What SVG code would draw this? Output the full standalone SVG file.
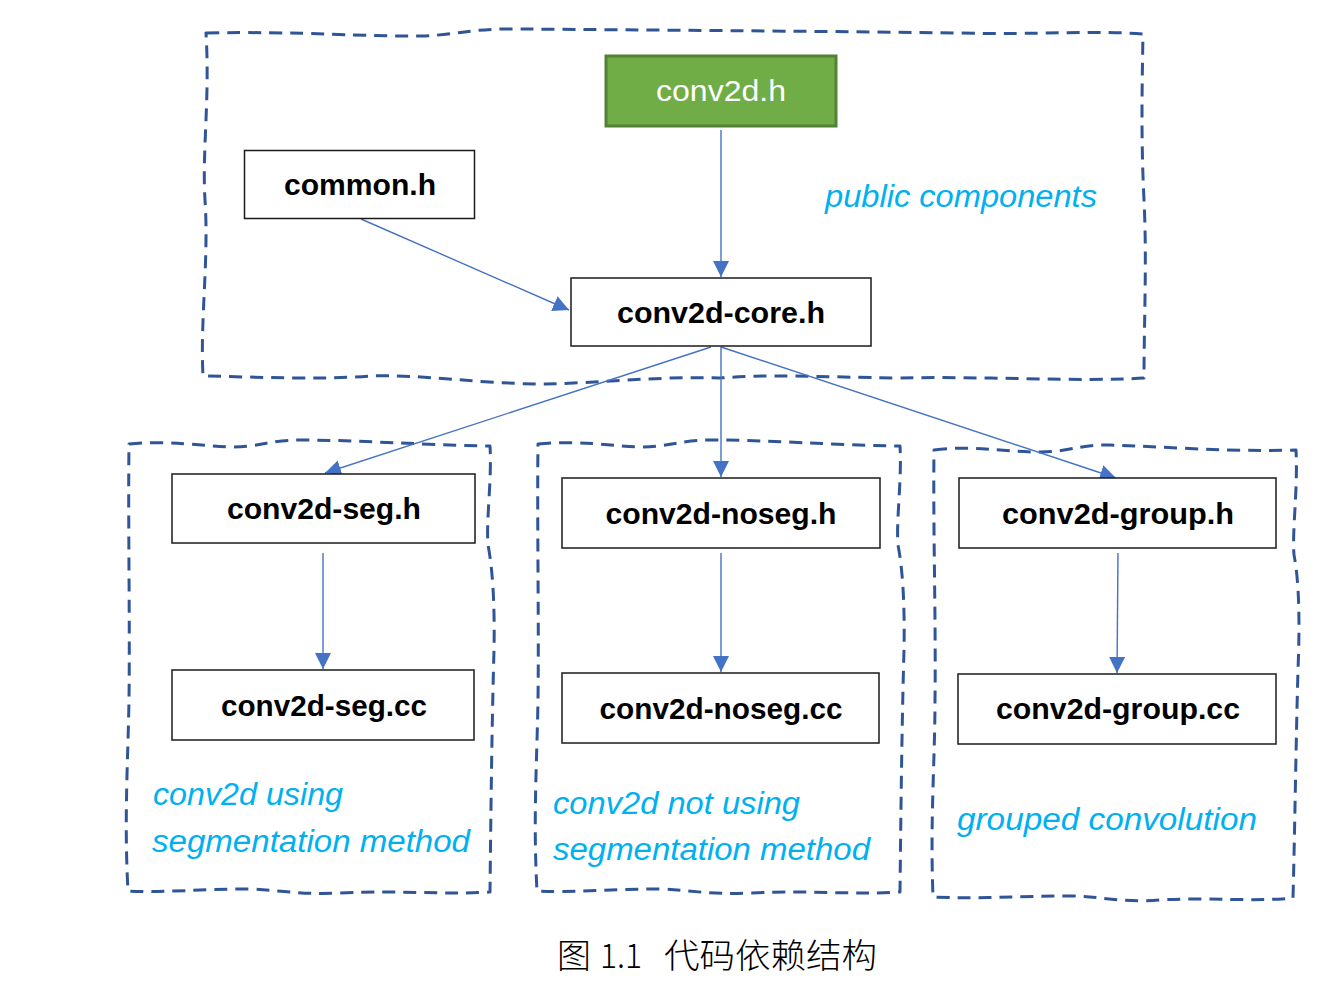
<svg xmlns="http://www.w3.org/2000/svg" width="1339" height="999" viewBox="0 0 1339 999">
<style>
.region{fill:none;stroke:#2F5597;stroke-width:3;stroke-dasharray:13 8;stroke-linejoin:round}
.box{fill:#fff;stroke:#1a1a1a;stroke-width:1.5}
.lbl{font-family:"Liberation Sans",Arial,sans-serif;font-weight:bold;font-size:29px;fill:#000;text-anchor:middle}
.note{font-family:"Liberation Sans",Arial,sans-serif;font-style:italic;font-size:31px;fill:#00B0F0}
.cap{font-family:"Noto Sans CJK SC","Noto Sans",sans-serif;font-size:34px;font-weight:300;fill:#000}
.edge{stroke:#4472C4;stroke-width:1.4;fill:none;marker-end:url(#arr)}
</style>
<defs>
<marker id="arr" markerUnits="userSpaceOnUse" markerWidth="18" markerHeight="16" refX="16" refY="8" orient="auto">
<path d="M0,0 L16,8 L0,16 Z" fill="#4472C4"/>
</marker>
</defs>
<rect width="1339" height="999" fill="#fff"/>

<g id="regions">
<path class="region" d="M206,33 C300,31 370,37 420,36 C460,35 470,28 520,29 C650,30 800,31 960,33 C1040,35 1090,30 1143,34 C1142,90 1141,140 1144,200 C1147,260 1144,320 1144,378 C1080,382 980,376 900,378 C820,377 770,374 720,378 C660,376 600,383 545,384 C480,384 420,374 370,376 C320,380 260,377 203,376 C200,320 209,260 205,200 C202,150 210,100 206,33 Z"/>
<path class="region" d="M129,444 C170,440 200,446 230,447 C260,447 270,440 300,440 C360,440 420,445 490,446 C492,480 486,520 488,545 C492,565 495,600 494,650 C492,720 491,800 490,892 C440,895 400,890 340,893 C300,895 280,890 250,889 C200,889 160,893 128,891 C124,820 128,760 129,700 C130,620 128,520 129,444 Z"/>
<path class="region" d="M538,444 C580,440 610,446 640,447 C670,447 680,440 710,440 C770,440 830,445 900,446 C902,480 896,520 898,545 C902,565 905,600 904,650 C902,720 901,800 900,892 C850,895 810,890 750,893 C710,895 690,890 660,889 C610,889 570,893 537,891 C533,820 537,760 538,700 C539,620 537,520 538,444 Z"/>
<path class="region" d="M934,450 C975,445 1000,452 1040,452 C1070,452 1080,444 1110,445 C1170,447 1230,452 1296,450 C1298,490 1292,530 1294,555 C1299,580 1300,620 1298,670 C1296,740 1295,820 1293,898 C1250,902 1210,897 1160,900 C1120,903 1100,896 1070,896 C1020,896 980,899 933,897 C930,820 935,760 935,700 C936,620 933,530 934,450 Z"/>
</g>

<g id="connectors">
<line class="edge" x1="721" y1="130" x2="721" y2="277"/>
<line class="edge" x1="361" y1="219" x2="569" y2="310"/>
<line class="edge" x1="711" y1="347" x2="325" y2="473"/>
<line class="edge" x1="721" y1="347" x2="721" y2="477"/>
<line class="edge" x1="721" y1="347" x2="1116" y2="478"/>
<line class="edge" x1="323" y1="553" x2="323" y2="669"/>
<line class="edge" x1="721" y1="553" x2="721" y2="672"/>
<line class="edge" x1="1118" y1="553" x2="1117" y2="673"/>
</g>

<g id="conv2d_h">
<rect x="606" y="56" width="230" height="70" fill="#70AD47" stroke="#538135" stroke-width="3"/>
<text x="721" y="101" textLength="130" lengthAdjust="spacingAndGlyphs" style="font-family:'Liberation Sans',Arial,sans-serif;font-size:30px;fill:#fff;text-anchor:middle">conv2d.h</text>
</g>
<g id="common_h">
<rect class="box" x="244.5" y="150.5" width="230" height="68"/>
<text class="lbl" x="360" y="195" textLength="152" lengthAdjust="spacingAndGlyphs">common.h</text>
</g>
<g id="conv2d_core_h">
<rect class="box" x="571" y="278" width="300" height="68"/>
<text class="lbl" x="721" y="323" textLength="208" lengthAdjust="spacingAndGlyphs">conv2d-core.h</text>
</g>
<g id="conv2d_seg_h">
<rect class="box" x="172" y="474" width="303" height="69"/>
<text class="lbl" x="324" y="519" textLength="194" lengthAdjust="spacingAndGlyphs">conv2d-seg.h</text>
</g>
<g id="conv2d_seg_cc">
<rect class="box" x="172" y="670" width="302" height="70"/>
<text class="lbl" x="324" y="716" textLength="206" lengthAdjust="spacingAndGlyphs">conv2d-seg.cc</text>
</g>
<g id="conv2d_noseg_h">
<rect class="box" x="562" y="478" width="318" height="70"/>
<text class="lbl" x="721" y="524" textLength="231" lengthAdjust="spacingAndGlyphs">conv2d-noseg.h</text>
</g>
<g id="conv2d_noseg_cc">
<rect class="box" x="562" y="673" width="317" height="70"/>
<text class="lbl" x="721" y="719" textLength="243" lengthAdjust="spacingAndGlyphs">conv2d-noseg.cc</text>
</g>
<g id="conv2d_group_h">
<rect class="box" x="959" y="478" width="317" height="70"/>
<text class="lbl" x="1118" y="524" textLength="232" lengthAdjust="spacingAndGlyphs">conv2d-group.h</text>
</g>
<g id="conv2d_group_cc">
<rect class="box" x="958" y="674" width="318" height="70"/>
<text class="lbl" x="1118" y="719" textLength="244" lengthAdjust="spacingAndGlyphs">conv2d-group.cc</text>
</g>

<g id="notes">
<text class="note" x="825" y="207" textLength="272" lengthAdjust="spacingAndGlyphs">public components</text>
<text class="note" x="153" y="805" textLength="190" lengthAdjust="spacingAndGlyphs">conv2d using</text>
<text class="note" x="152" y="852" textLength="318" lengthAdjust="spacingAndGlyphs">segmentation method</text>
<text class="note" x="553" y="814" textLength="247" lengthAdjust="spacingAndGlyphs">conv2d not using</text>
<text class="note" x="553" y="860" textLength="317" lengthAdjust="spacingAndGlyphs">segmentation method</text>
<text class="note" x="957" y="830" textLength="300" lengthAdjust="spacingAndGlyphs">grouped convolution</text>
</g>

<g id="caption">
<text class="cap" x="557" y="968">图</text>
<text class="cap" x="600" y="968" textLength="42" lengthAdjust="spacingAndGlyphs">1.1</text>
<text class="cap" x="664" y="968" textLength="213" lengthAdjust="spacingAndGlyphs">代码依赖结构</text>
</g>
</svg>
